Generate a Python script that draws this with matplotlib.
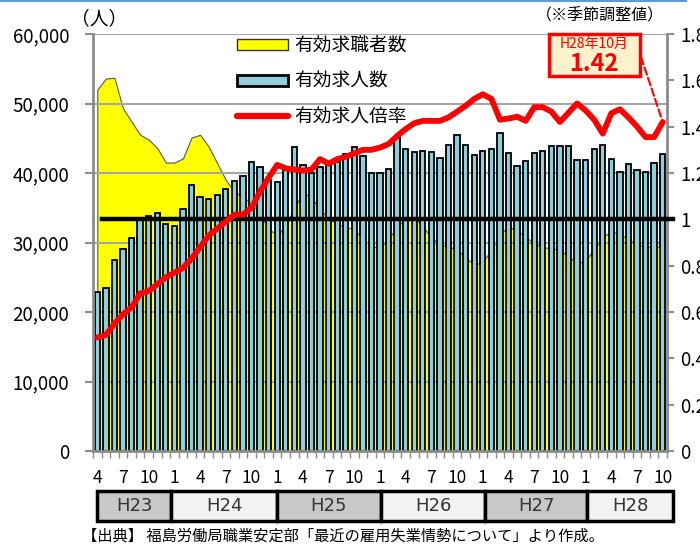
import numpy as np
import matplotlib
matplotlib.use("Agg")
import matplotlib.pyplot as plt
from matplotlib.patches import Patch, Rectangle
from matplotlib.lines import Line2D

plt.rcParams['font.family'] = ['Noto Sans CJK JP', 'DejaVu Sans']

# 有効求職者数 (H23.4 - H28.10, monthly)
seekers = [52000, 53600, 53700, 49300, 47400, 45500, 44800, 43600, 41500, 41500, 42100, 45100,
           45500, 43800, 41400, 39000, 37300,
           36500, 35700, 34000, 32000, 31000, 32500, 35000, 37200, 36500, 34700, 33500, 32600,
           32300, 31800, 30500, 29500, 29200,
           30600, 32200, 33600, 33600, 32300, 30700, 29700, 29400, 29000, 27800, 26800, 27200,
           29000, 31200, 32300, 31700, 30800, 29900, 29300, 29200, 28900, 28000, 27000, 27400,
           29100, 30800, 31600, 31200, 30500, 29700, 29400, 29400, 29400]

# 有効求人数
openings = [22900, 23500, 27500, 29100, 30700, 33400, 33800, 34200, 32600, 32400, 34800, 38300,
            36600, 36200, 36800, 37700, 38900,
            39600, 41600, 40800, 39000, 38700, 40400, 43700, 41200, 40000, 40900, 41400, 41600,
            42800, 43800, 42400, 40000, 40000,
            40600, 45000, 43500, 43000, 43100, 43000, 42200, 44100, 45500, 44100, 42600, 43100,
            43500, 45700, 42900, 41000,
            41700, 42900, 43200, 43900, 43900, 43900, 41900, 41800, 43400, 44100, 42000, 40100,
            41300, 40400, 40200, 41400, 42800]

# 有効求人倍率
ratio = [0.49, 0.50, 0.55, 0.59, 0.62, 0.68, 0.69, 0.72, 0.75, 0.77, 0.79, 0.83, 0.88, 0.93,
         0.96, 0.99, 1.02,
         1.02, 1.05, 1.12, 1.18, 1.235, 1.22, 1.215, 1.21, 1.215, 1.26, 1.24, 1.26, 1.27,
         1.285, 1.30, 1.30, 1.31,
         1.325, 1.36, 1.39, 1.415, 1.425, 1.425, 1.425, 1.44, 1.465, 1.49, 1.52, 1.54, 1.52,
         1.43, 1.435, 1.443,
         1.425, 1.484, 1.484, 1.465, 1.42, 1.46, 1.50, 1.47, 1.43, 1.37, 1.458, 1.475, 1.44,
         1.40, 1.355, 1.355, 1.42]

month_labels = ['4', '7', '10', '1'] + ['4', '7', '10', '1'] * 4 + ['4', '7', '10']
years = ['H23', 'H24', 'H25', 'H26', 'H27', 'H28']
year_edges_px = [97, 171, 277, 381, 485, 587, 673]
year_fill = ['#C8C8C8', '#F2F2F2', '#C8C8C8', '#F2F2F2', '#C8C8C8', '#F2F2F2']

W, H = 700, 551
fig = plt.figure(figsize=(7, 5.51), dpi=100)
ax = fig.add_axes([93 / W, 1 - 451 / H, 574 / W, 417 / H])
x = np.arange(len(openings))

gray = '#8C8C8C'
ax.fill_between(x, seekers, color='#FFFF00', edgecolor='#555555', linewidth=0.8, zorder=1)
for v in range(10000, 60001, 10000):
    ax.axhline(v, color='#A6A6A6', lw=1.5, zorder=1.5)
ax.bar(x, openings, width=0.62, color='#92CDDC', edgecolor='black', linewidth=1.3, zorder=2)

ax.set_xlim(-0.5, len(x) - 0.5)
ax.set_ylim(0, 60000)
ax.set_yticks(range(0, 60001, 10000))
ax.set_yticklabels([f'{v:,}' for v in range(0, 60001, 10000)])
for s in ['left', 'bottom']:
    ax.spines[s].set_color(gray)
    ax.spines[s].set_linewidth(2)
ax.spines['top'].set_visible(False)
ax.spines['right'].set_visible(False)

ax2 = ax.twinx()
ax2.set_ylim(0, 1.8)
rt = np.round(np.arange(0, 1.81, 0.2), 1)
ax2.set_yticks(rt)
ax2.set_yticklabels([f'{v:g}' for v in rt])
ax2.tick_params(axis='y', length=5, color=gray, width=1.5, pad=4.5, labelsize=13.5)
for s in ['left', 'top', 'bottom']:
    ax2.spines[s].set_visible(False)
ax2.spines['right'].set_color(gray)
ax2.spines['right'].set_linewidth(2)

ax.set_xticks(x[::3])
ax.set_xticklabels(month_labels)
ax.set_xticks(np.arange(-0.5, len(x), 1), minor=True)
ax.tick_params(axis='x', which='major', length=0, pad=13, labelsize=12.5)
ax.tick_params(axis='x', which='minor', length=5, color=gray, width=1)
ax.tick_params(axis='y', length=6, color=gray, width=1.5, pad=11, labelsize=13.5)

ax2.plot(x, ratio, color='#FF0000', lw=4.2, solid_joinstyle='round', solid_capstyle='round', zorder=4)
ax2.plot([0.015, 1.01], [1, 1], color='black', lw=3.2, transform=ax2.get_yaxis_transform(),
         clip_on=False, zorder=3)

# legend
handles = [Patch(facecolor='#FFFF00', edgecolor='#333333', linewidth=1),
           Patch(facecolor='#92CDDC', edgecolor='black', linewidth=2),
           Line2D([0], [0], color='#FF0000', lw=4.5, solid_capstyle='round')]
fig.legend(handles, ['有効求職者数', '有効求人数', '有効求人倍率'], loc='upper left',
           bbox_to_anchor=(237 / W, 1 - 35 / H), frameon=False, fontsize=13.5,
           handlelength=2.7, handleheight=0.55, handletextpad=0.35, labelspacing=0.79,
           borderpad=0, borderaxespad=0)

fig.text(71 / W, 1 - 19 / H, '（人）', fontsize=13.5, va='center', ha='left')
fig.text(536 / W, 1 - 16 / H, '（※季節調整値）', fontsize=11.5, va='center', ha='left')

# callout
fig.add_artist(Rectangle((549 / W, 1 - 76 / H), 91 / W, 42 / H, transform=fig.transFigure,
                         facecolor='#FFF2CC', edgecolor='#FF0000', lw=2.5))
fig.text(594 / W, 1 - 44 / H, 'H28年10月', color='#FF0000', fontsize=10, ha='center', va='center')
fig.text(594 / W, 1 - 64 / H, f'{ratio[-1]:.2f}', color='#FF0000', fontsize=17, fontweight='bold',
         ha='center', va='center')
ax2.annotate('', xy=(x[-1], ratio[-1]), xycoords='data', xytext=(641 / W, 1 - 57 / H),
             textcoords='figure fraction',
             arrowprops=dict(arrowstyle='-', color='#FF0000', lw=1.5, linestyle='--',
                             shrinkA=0, shrinkB=0))

# year band
for i, yr in enumerate(years):
    x0, x1 = year_edges_px[i], year_edges_px[i + 1]
    fig.add_artist(Rectangle((x0 / W, 1 - 521 / H), (x1 - x0) / W, 30 / H,
                             transform=fig.transFigure, facecolor=year_fill[i],
                             edgecolor='black', lw=2.5))
    fig.text((x0 + x1) / 2 / W, 1 - 506 / H, yr, fontsize=13, color='#333333',
             family='DejaVu Sans', ha='center', va='center')

fig.text(82 / W, 1 - 536 / H, '【出典】 福島労働局職業安定部「最近の雇用失業情勢について」より作成。',
         fontsize=11, ha='left', va='center')

fig.add_artist(Line2D([0, 0.98], [0.998, 0.998], color='#5B9BD5', lw=1.5,
                      transform=fig.transFigure))

fig.savefig('out.png', dpi=100)
